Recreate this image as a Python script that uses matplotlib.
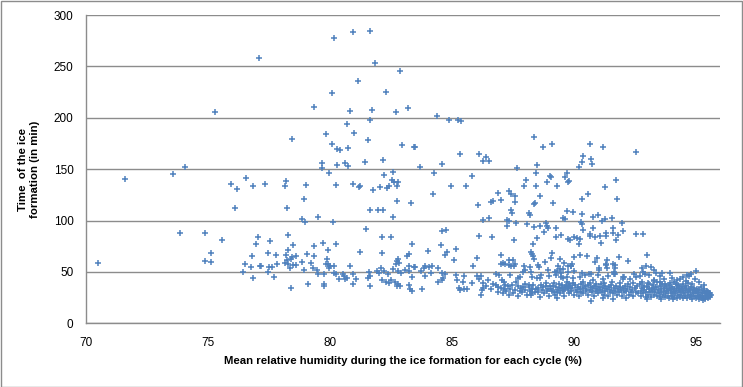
import matplotlib.pyplot as plt
from matplotlib.patches import Rectangle
import numpy as np

# (mean relative humidity %, ice formation time min)
low_rh = [
    (70.5, 58.4), (71.6, 140.1), (73.55, 145), (74.05, 151.8), (75.3, 206), (77.1, 258),
    (75.93, 135.2), (76.18, 130.4), (76.58, 141.1), (76.83, 133.3), (76.09, 111.9),
    (73.84, 87.6), (74.9, 87.6), (75.56, 80.8), (75.11, 68.1), (74.9, 60.3), (75.11, 59.4),
    (77.04, 83.7), (76.99, 76.9), (76.79, 65.5), (76.54, 57.4), (76.75, 54.5), (76.42, 49.6),
    (76.83, 43.8), (77.12, 55.5),
]

peak_rh = [
    (80.19, 277.3), (80.97, 283.2), (81.66, 284.1), (81.87, 253), (82.89, 245.2), (81.17, 235.5),
    (80.07, 223.8), (82.32, 224.8), (79.37, 210.2), (80.84, 206.3), (81.74, 207.3), (82.73, 205.3),
    (83.22, 209.2), (81.66, 197.5), (80.72, 193.6), (78.43, 179), (79.86, 183.9), (81.0, 184.9),
    (81.58, 178.1), (80.07, 174.2), (80.31, 169.3), (80.43, 168.3), (80.76, 170.3), (82.97, 173.2),
    (83.46, 171.2), (82.2, 158.6), (81.46, 156.7), (79.66, 155.7), (79.66, 150.8), (80.31, 153.7),
    (80.64, 155.7), (80.76, 152.8),
]

cluster_80 = [
    (77.36, 135.3), (78.22, 138.2), (78.18, 133.3), (79.04, 134.3), (79.98, 146), (78.96, 120.7),
    (78.26, 111.9), (78.84, 101.2), (79.0, 98.3), (79.53, 103.1), (80.11, 98.3), (80.27, 134.3),
    (80.93, 135.3), (81.21, 132.3), (81.25, 133.3), (81.79, 129.4), (82.07, 132.3), (82.24, 144),
    (82.36, 131.4), (82.44, 133.3), (82.6, 146.9), (82.56, 139.1), (82.65, 137.2), (82.81, 137.2),
    (82.77, 133.3), (82.77, 118.7), (83.34, 116.8), (81.66, 110), (81.99, 110), (82.2, 110),
    (82.6, 103.1), (81.5, 91.5), (82.15, 83.7), (82.52, 83.7), (83.38, 76.9), (82.15, 68.1),
    (81.25, 69.1), (77.53, 79.8), (78.3, 85.6), (78.47, 75.9), (78.3, 71), (77.45, 68.1),
    (77.81, 66.2), (78.22, 66.2), (78.39, 62.3), (78.26, 61.3), (78.43, 64.2), (78.63, 65.2),
    (78.18, 58.4), (78.3, 57.4), (78.35, 53.5), (78.47, 56.4), (78.63, 56.4), (78.84, 59.4),
    (79.08, 67.1), (79.33, 74.9), (79.37, 65.2), (79.21, 58.4), (79.29, 53.5), (78.96, 51.6),
    (77.85, 57.4), (77.16, 55.5), (77.49, 54.5), (77.61, 54.5), (77.45, 49.6), (77.69, 44.8),
    (78.39, 34.1), (79.12, 37.9), (79.49, 51.6), (79.53, 47.7), (79.74, 47.7), (79.78, 37.9),
    (79.78, 36), (79.7, 77.8), (79.94, 71), (80.27, 76.9), (79.9, 62.3), (79.86, 57.4),
    (79.94, 57.4), (80.02, 55.5), (79.98, 53.5), (80.19, 55.5), (80.19, 48.7), (80.27, 47.7),
    (80.52, 47.7), (80.39, 42.8), (80.6, 45.7), (80.64, 42.8), (80.72, 43.8), (80.81, 55.5),
    (80.97, 47.7), (81.09, 42.8), (80.93, 37.9), (81.58, 43.8), (81.66, 45.7), (81.62, 49.6),
    (81.66, 36), (81.95, 50.6), (82.03, 48.7), (82.11, 53.5), (82.24, 50.6), (82.15, 41.8),
    (82.32, 39.9), (82.4, 47.7), (82.44, 38.9), (82.52, 41.8), (82.6, 52.5), (82.69, 39.9),
    (82.73, 57.4), (82.77, 60.3), (82.81, 62.3), (82.85, 58.4), (82.93, 48.7), (82.81, 50.6),
    (82.81, 37.9), (82.89, 36), (82.77, 36), (83.18, 65.2), (83.26, 67.1), (83.26, 55.5),
    (83.1, 51.6), (83.26, 50.6), (83.38, 44.8), (83.26, 37), (83.3, 33.1), (83.38, 31.1),
    (83.46, 54.5),
]

mid_rh = [
    (84.41, 201.4), (84.9, 197.5), (85.27, 197.5), (85.39, 196.6), (83.5, 171.2), (85.35, 164.4),
    (86.13, 164.4), (86.41, 161.5), (86.29, 157.6), (86.53, 157.6), (88.38, 181), (88.75, 171.2),
    (89.12, 174.2), (83.71, 151.8), (84.61, 154.7), (87.68, 150.8), (88.5, 153.7),
    (84.28, 146), (85.84, 143), (84.98, 133.3), (85.59, 133.3), (84.24, 125.5), (86.08, 114.8),
    (86.62, 117.7), (86.7, 118.7), (86.9, 126.5), (87.03, 119.7), (87.35, 128.4), (87.44, 125.5),
    (87.6, 123.6), (87.6, 117.7), (87.97, 133.3), (88.05, 139.1), (88.46, 146), (88.46, 133.3),
    (88.62, 123.6), (88.38, 115.8), (88.42, 116.8), (88.91, 137.2), (89.03, 143), (89.08, 142.1),
    (89.32, 133.3), (89.65, 142.1), (89.73, 146), (89.81, 138.2), (89.16, 116.8), (87.44, 110),
    (87.48, 107), (88.17, 107), (88.21, 105.1), (86.53, 102.2), (86.29, 100.2), (87.27, 100.2),
    (87.35, 99.3), (87.27, 94.4), (87.64, 97.3), (88.09, 96.3), (88.38, 93.4), (88.62, 94.4),
    (88.79, 88.5), (88.87, 97.3), (88.91, 94.4), (88.95, 92.4), (89.28, 92.4), (89.57, 102.2),
    (89.65, 101.2), (84.61, 89.5), (84.77, 90.5), (86.13, 84.7), (86.66, 83.7), (87.56, 80.8),
    (88.5, 82.7), (89.28, 83.7), (89.48, 85.6), (88.34, 76.9), (84.57, 75.9), (84.04, 70.1),
    (84.81, 69.1), (84.73, 66.2), (85.18, 72), (87.03, 66.2), (88.26, 69.1), (88.3, 67.1),
    (88.34, 65.2), (89.12, 68.1), (88.38, 62.3), (89.44, 62.3), (85.1, 61.3), (86.05, 63.2),
    (87.35, 61.3), (87.52, 61.3), (88.83, 59.4), (89.08, 63.2), (89.61, 58.4),
    (83.5, 54.5), (83.91, 55.5), (83.87, 53.5), (84.08, 54.5), (84.2, 55.5), (84.45, 53.5),
    (83.75, 50.6), (84.16, 48.7), (83.91, 45.7), (85.88, 55.5), (87.03, 57.4), (87.11, 58.4),
    (87.19, 57.4), (87.35, 56.4), (87.44, 55.5), (87.6, 57.4), (87.56, 55.5), (87.97, 55.5),
    (88.21, 54.5), (88.54, 56.4), (88.58, 54.5), (89.36, 55.5), (89.44, 52.5), (89.77, 55.5),
    (88.01, 51.6), (87.93, 49.6), (88.26, 49.6), (88.95, 51.6), (89.24, 49.6), (89.32, 50.6),
    (89.48, 48.7), (84.61, 48.7), (84.73, 47.7), (85.18, 46.7), (85.51, 45.7), (86.05, 45.7),
    (86.21, 45.7), (86.82, 47.7), (86.95, 46.7), (87.39, 46.7), (87.72, 43.8), (87.8, 44.8),
    (88.3, 44.8), (88.5, 43.8), (88.62, 43.8), (88.66, 46.7), (88.99, 45.7), (89.28, 46.7),
    (89.57, 43.8), (89.73, 44.8), (84.45, 39.9), (84.61, 41.8), (84.65, 43.8), (85.22, 41.8),
    (85.47, 39.9), (85.84, 38.9), (86.13, 42.8), (86.29, 38.9), (86.5, 41.8), (86.29, 34.1),
    (86.21, 27.2), (86.26, 32.1), (85.31, 34.1), (85.35, 32.1), (85.51, 33.1), (85.63, 33.1),
    (83.79, 33.1), (86.82, 37), (86.9, 35), (87.07, 41.8), (87.15, 39.9), (87.15, 33.1),
    (87.23, 31.1), (87.35, 27.2), (87.31, 36), (87.48, 37), (87.64, 39.9), (87.72, 36),
    (87.8, 31.1), (87.93, 35), (88.01, 32.1), (88.17, 37), (88.21, 31.1), (88.3, 33.1),
    (88.42, 30.2), (88.26, 27.2), (88.54, 34.1), (88.66, 37), (88.75, 35), (88.87, 38.9),
    (88.95, 33.1), (89.03, 36), (89.12, 31.1), (89.2, 38.9), (89.28, 35), (89.32, 30.2),
    (89.32, 24.3), (89.44, 34.1), (89.52, 37), (89.61, 32.1), (89.69, 36), (89.77, 34.1),
    (89.81, 37.9),
]

mid_band = [
    (86.4, 36), (86.6, 33), (86.7, 38), (86.9, 30), (87.0, 34), (87.1, 29), (87.2, 37),
    (87.4, 33), (87.5, 29), (87.6, 32), (87.7, 27), (87.85, 34), (87.9, 30), (88.0, 38),
    (88.1, 28), (88.15, 35), (88.3, 29), (88.35, 37), (88.45, 33), (88.55, 30), (88.6, 26),
    (88.7, 32), (88.8, 29), (88.85, 36), (88.9, 31), (89.0, 27), (89.05, 33), (89.15, 36),
    (89.2, 30), (89.25, 28), (89.35, 32), (89.4, 38), (89.45, 29), (89.5, 34), (89.55, 31),
    (89.6, 27), (89.65, 35),
]

high_rh = [
    (90.67, 174.2), (91.2, 171.2), (92.55, 166.4), (90.38, 162.5), (90.34, 156.7), (90.71, 159.6),
    (90.75, 154.7), (90.22, 151.8), (89.77, 137.2), (91.29, 132.3), (91.74, 139.1), (90.59, 125.5),
    (90.34, 120.7), (91.78, 120.7), (89.73, 109), (89.98, 108), (90.34, 106.1), (90.79, 103.1),
    (91.0, 105.1), (91.29, 101.2), (91.16, 99.3), (91.57, 102.2), (90.3, 98.3), (90.34, 96.3),
    (91.99, 97.3), (90.79, 92.4), (90.38, 90.5), (91.62, 92.4), (92.03, 89.5), (90.67, 86.6),
    (90.67, 84.7), (90.87, 83.7), (91.08, 84.7), (91.33, 87.6), (91.33, 84.7), (91.62, 87.6),
    (91.82, 85.6), (91.74, 80.8), (91.12, 77.8), (92.55, 86.6), (92.84, 86.6), (89.77, 81.7),
    (89.85, 80.8), (90.02, 83.7), (90.14, 82.7), (90.26, 81.7), (90.22, 76.9), (90.02, 64.2),
    (90.26, 66.2), (90.55, 65.2), (90.96, 63.2), (90.87, 59.4), (91.37, 61.3), (91.33, 57.4),
    (91.62, 57.4), (91.7, 56.4), (91.86, 64.2), (92.23, 60.3), (92.99, 66.2), (92.96, 55.5),
    (93.17, 54.5), (92.8, 53.5), (89.94, 57.4), (89.9, 55.5), (89.77, 49.6), (90.02, 50.6),
    (90.34, 48.7), (90.63, 47.7), (91.04, 51.6), (91.0, 46.7), (91.37, 53.5), (91.41, 45.7),
    (91.66, 49.6), (91.7, 47.7), (92.07, 44.8), (92.03, 42.8), (92.47, 47.7), (92.55, 44.8),
    (92.72, 45.7), (92.84, 49.6), (92.92, 47.7), (93.09, 46.7), (93.29, 51.6), (93.38, 48.7),
    (93.54, 45.7), (93.62, 48.7), (93.7, 42.8), (93.95, 48.7), (94.03, 43.8), (94.23, 41.8),
    (94.48, 44.8), (94.64, 46.7), (94.73, 45.7), (94.81, 47.7), (95.01, 50.6), (94.97, 42.8),
    (94.68, 38.9), (94.48, 37.9), (94.27, 37), (93.95, 38.9), (93.74, 37.9), (93.54, 39.9),
    (93.29, 40.9), (93.05, 38.9), (92.8, 39.9), (92.43, 38.9), (92.23, 37.9), (91.9, 38.9),
    (91.57, 39.9), (91.25, 38.9), (90.92, 37.9), (90.67, 38.9), (90.38, 39.9), (89.98, 38.9),
    (89.73, 39.9), (90.71, 21.4), (91.2, 24.3), (91.62, 23.4), (92.15, 24.3), (92.99, 23.4),
    (93.58, 23.4), (94.07, 23.4), (95.3, 22.4), (95.55, 29.2), (95.59, 27.2), (95.5, 26),
    (89.55, 53.1), (89.9, 55.8), (89.97, 44.1), (90.25, 45), (90.45, 46.7), (90.73, 48.3),
    (91.04, 53.8), (91.34, 56.4), (91.68, 53.8), (91.64, 48.3), (92.02, 45), (92.3, 43.4),
    (89.49, 45), (90.8, 41.8), (91.2, 43.4),
]

high_band = [
    (89.75, 33), (89.8, 29), (89.85, 36), (89.9, 31), (89.95, 34), (90.0, 28), (90.05, 37),
    (90.1, 32), (90.12, 30), (90.18, 35), (90.2, 27), (90.25, 33), (90.3, 38), (90.32, 30),
    (90.38, 34), (90.4, 29), (90.45, 36), (90.5, 31), (90.52, 33), (90.58, 28), (90.6, 37),
    (90.65, 32), (90.7, 35), (90.75, 30), (90.8, 34), (90.82, 27), (90.88, 36), (90.9, 31),
    (90.95, 33), (91.0, 29), (91.05, 35), (91.08, 32), (91.12, 38), (91.15, 30), (91.2, 34),
    (91.25, 28), (91.28, 36), (91.3, 31), (91.35, 33), (91.4, 27), (91.45, 35), (91.48, 30),
    (91.52, 37), (91.55, 32), (91.6, 29), (91.65, 34), (91.7, 31), (91.72, 36), (91.78, 28),
    (91.8, 33), (91.85, 30), (91.9, 35), (91.95, 32), (92.0, 27), (92.02, 34), (92.08, 30),
    (92.1, 36), (92.15, 31), (92.2, 33), (92.25, 28), (92.3, 35), (92.35, 30), (92.4, 32),
    (92.45, 27), (92.5, 34), (92.55, 30), (92.6, 36), (92.65, 29),
    (92.72, 38), (92.75, 31), (92.78, 27), (92.8, 34), (92.85, 29), (92.88, 36), (92.9, 32),
    (92.95, 26), (92.98, 30), (93.0, 35), (93.05, 28), (93.08, 33), (93.1, 38), (93.12, 30),
    (93.15, 26), (93.2, 34), (93.22, 31), (93.25, 37), (93.28, 28), (93.3, 33), (93.35, 30),
    (93.38, 35), (93.4, 27), (93.42, 40), (93.45, 32), (93.5, 29), (93.52, 36), (93.55, 26),
    (93.58, 33), (93.6, 30), (93.62, 38), (93.65, 28), (93.7, 34), (93.72, 31), (93.75, 26),
    (93.78, 36), (93.8, 29), (93.82, 33), (93.85, 27), (93.88, 31), (93.9, 37), (93.92, 25),
    (93.95, 34), (93.98, 29), (94.0, 32), (94.02, 27), (94.05, 35), (94.08, 30), (94.1, 26),
    (94.12, 33), (94.15, 29), (94.18, 38), (94.2, 31), (94.22, 25), (94.25, 34), (94.28, 28),
    (94.3, 32), (94.32, 36), (94.35, 26), (94.38, 30), (94.4, 33), (94.42, 28), (94.45, 35),
    (94.48, 25), (94.5, 31), (94.52, 29), (94.55, 34), (94.58, 27), (94.6, 32), (94.62, 36),
    (94.65, 25), (94.68, 30), (94.7, 28), (94.72, 33), (94.75, 26), (94.78, 31), (94.8, 35),
    (94.82, 28), (94.85, 24), (94.88, 32), (94.9, 29), (94.92, 34), (94.95, 27), (94.98, 31),
    (95.0, 25), (95.02, 29), (95.05, 33), (95.08, 27), (95.1, 30), (95.12, 24), (95.15, 32),
    (95.18, 28), (95.2, 26), (95.22, 35), (95.25, 29), (95.28, 25), (95.3, 31), (95.32, 27),
    (95.35, 33), (95.38, 24), (95.4, 29), (95.42, 26), (95.45, 31), (95.48, 28), (95.5, 25),
    (95.52, 30), (95.55, 27), (95.58, 29), (95.6, 26), (95.62, 28), (94.1, 40), (94.6, 41),
    (95.15, 40), (93.3, 42), (94.85, 38), (95.35, 37), (94.35, 43),
]

y_ticks = [0, 50, 100, 150, 200, 250, 300]
x_ticks = [70, 75, 80, 85, 90, 95]

pts = np.array(low_rh + peak_rh + cluster_80 + mid_rh + mid_band + high_rh + high_band)

plt.rcParams['font.family'] = ['Liberation Sans', 'DejaVu Sans']
fig = plt.figure(figsize=(7.43, 3.87), dpi=100)
ax = fig.add_axes([86 / 743, 1 - 323.3 / 387, (720 - 86) / 743, (323.3 - 15) / 387])

ax.scatter(pts[:, 0], pts[:, 1], marker='+', s=14, linewidths=1.1, color='#4F81BD', zorder=3)

ax.set_xlim(70, 96)
ax.set_ylim(0, 300)
ax.set_xticks(x_ticks)
ax.set_yticks(y_ticks)
ax.yaxis.grid(True, color='#8c8c8c', linewidth=1)
ax.set_axisbelow(True)
for s in ['top', 'right']:
    ax.spines[s].set_visible(False)
for s in ['left', 'bottom']:
    ax.spines[s].set_color('#8c8c8c')
    ax.spines[s].set_linewidth(1)
ax.tick_params(axis='both', length=0, labelsize=8.5, colors='black')
ax.tick_params(axis='x', pad=10)
ax.tick_params(axis='y', pad=9)

ax.set_xlabel('Mean relative humidity during the ice formation for each cycle (%)',
              fontsize=8.2, fontweight='bold', labelpad=5)
ax.set_ylabel('Time  of the ice\nformation (in min)', fontsize=8.2, fontweight='bold', labelpad=10)

fig.patches.append(Rectangle((0.5 / 743, 0.5 / 387), 1 - 1.5 / 743, 1 - 1.5 / 387,
                             transform=fig.transFigure, fill=False, edgecolor='#8c8c8c', linewidth=1))

fig.savefig('out.png', dpi=100)
